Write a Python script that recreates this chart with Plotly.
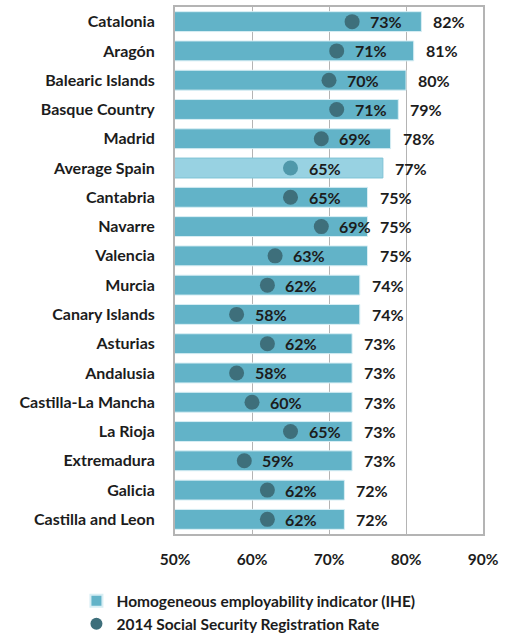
import plotly.graph_objects as go

regions = ["Catalonia", "Aragón", "Balearic Islands", "Basque Country", "Madrid",
           "Average Spain", "Cantabria", "Navarre", "Valencia", "Murcia",
           "Canary Islands", "Asturias", "Andalusia", "Castilla-La Mancha",
           "La Rioja", "Extremadura", "Galicia", "Castilla and Leon"]
ihe = [82, 81, 80, 79, 78, 77, 75, 75, 75, 74, 74, 73, 73, 73, 73, 73, 72, 72]
registration_2014 = [73, 71, 70, 71, 69, 65, 65, 69, 63, 62, 58, 62, 58, 60, 65, 59, 62, 62]
x_ticks = [50, 60, 70, 80, 90]

BAR = "#62b3c8"
BAR_AVG = "#98d2e2"
DOT = "#3e6f7b"
DOT_AVG = "#4f98aa"
TXT = "#1c1c1c"
FONT = "Lato"

is_avg = [r == "Average Spain" for r in regions]

fig = go.Figure()
fig.add_trace(go.Bar(
    y=regions, x=ihe, orientation="h",
    marker=dict(color=[BAR_AVG if a else BAR for a in is_avg],
                line=dict(color=["#7fc3d5" if a else "#d8eef4" for a in is_avg], width=1)),
    name="Homogeneous employability indicator (IHE)",
    hoverinfo="skip",
))
fig.add_trace(go.Scatter(
    y=regions, x=registration_2014, mode="markers",
    marker=dict(color=[DOT_AVG if a else DOT for a in is_avg], size=15, symbol="circle"),
    name="2014 Social Security Registration Rate",
    hoverinfo="skip",
))

label_font = dict(family=FONT, size=16, color=TXT, weight="bold")

# registration-rate labels to the right of each dot
for r, v in zip(regions, registration_2014):
    fig.add_annotation(x=v, y=r, text=f"{v}%", showarrow=False,
                       xanchor="left", xshift=16, font=label_font)

# value labels just past the end of each bar
for r, v in zip(regions, ihe):
    fig.add_annotation(x=v, y=r, text=f"{v}%", showarrow=False,
                       xanchor="left", xshift=10, font=label_font)

fig.update_layout(
    width=507, height=636,
    margin=dict(l=175, r=24, t=7, b=102, autoexpand=False),
    plot_bgcolor="white", paper_bgcolor="white",
    bargap=0.32,
    showlegend=True,
    legend=dict(orientation="v",
                x=-0.32, y=-0.095, xanchor="left", yanchor="top",
                font=dict(family=FONT, size=15.5, color=TXT, weight="bold"),
                itemsizing="constant", tracegroupgap=0),
    font=dict(family=FONT, size=15, color=TXT),
)
fig.update_xaxes(range=[50, 90], tickvals=x_ticks, automargin=False,
                 ticktext=[f"{t}%" for t in x_ticks],
                 showgrid=True, gridcolor="#b4b4b4", gridwidth=1,
                 showline=True, linecolor="#b4b4b4", linewidth=2, mirror=True,
                 zeroline=False, ticks="", ticklabelstandoff=10,
                 tickfont=dict(family=FONT, size=15.5, color=TXT, weight="bold"))
fig.update_yaxes(range=[len(regions) - 0.5, -0.5], showgrid=False, automargin=False,
                 showline=True, linecolor="#b4b4b4", linewidth=2, mirror=True,
                 ticks="", ticklabelstandoff=15,
                 tickfont=dict(family=FONT, size=16, color=TXT, weight="bold"))

fig.write_html("out.html")
